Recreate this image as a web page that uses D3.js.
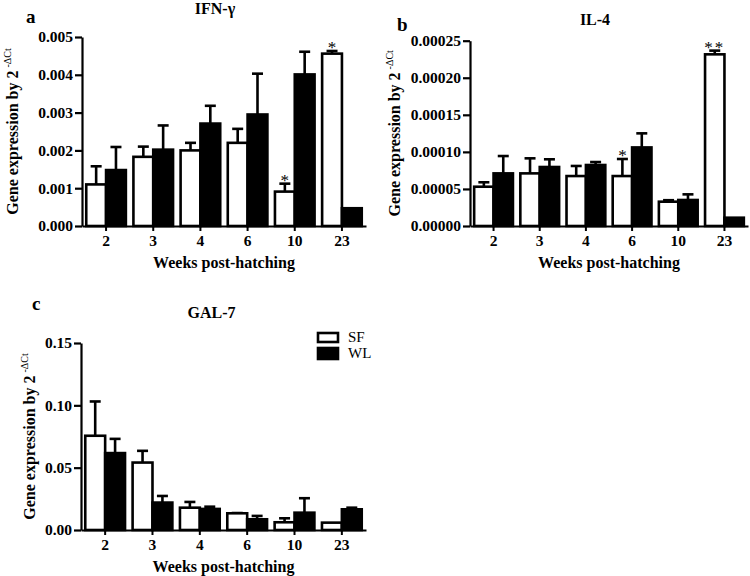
<!DOCTYPE html>
<html>
<head>
<meta charset="utf-8">
<script src="https://cdn.jsdelivr.net/npm/d3@7"></script>
<style>
  html, body { margin: 0; padding: 0; background: #fff; }
  svg { display: block; }
  text { font-family: "Liberation Serif", "Times New Roman", serif; fill: #000; }
</style>
</head>
<body>
<svg id="chart" width="750" height="576"></svg>
<script>
// ---- data ----
const weeks = ["2", "3", "4", "6", "10", "23"];
const groups = ["SF", "WL"];

// Panel a: IFN-γ
const ifnSF    = [0.00110, 0.00183, 0.00200, 0.00220, 0.00091, 0.00456];
const ifnSFerr = [0.00048, 0.00027, 0.00020, 0.00037, 0.00021, 0.00007];
const ifnWL    = [0.00148, 0.00202, 0.00271, 0.00295, 0.00401, 0.00047];
const ifnWLerr = [0.00061, 0.00064, 0.00047, 0.00108, 0.00060, 0.00000];
const ifnSig   = ["", "", "", "", "*", "*"];
const ifnTicks = [0, 0.001, 0.002, 0.003, 0.004, 0.005];

// Panel b: IL-4
const il4SF    = [0.0000530, 0.0000710, 0.0000674, 0.0000674, 0.0000328, 0.0002316];
const il4SFerr = [0.0000060, 0.0000203, 0.0000136, 0.0000230, 0.0000020, 0.0000050];
const il4WL    = [0.0000710, 0.0000796, 0.0000823, 0.0001060, 0.0000351, 0.0000112];
const il4WLerr = [0.0000234, 0.0000104, 0.0000040, 0.0000190, 0.0000076, 0.0000000];
const il4Sig   = ["", "", "", "*", "", "**"];
const il4Ticks = [0, 0.00005, 0.0001, 0.00015, 0.0002, 0.00025];

// Panel c: GAL-7
const galSF    = [0.0756, 0.0541, 0.0179, 0.0134, 0.0062, 0.0059];
const galSFerr = [0.0275, 0.0094, 0.0046, 0.0002, 0.0032, 0.0000];
const galWL    = [0.0617, 0.0220, 0.0169, 0.0086, 0.0139, 0.0166];
const galWLerr = [0.0114, 0.0053, 0.0018, 0.0027, 0.0116, 0.0013];
const galSig   = ["", "", "", "", "", ""];
const galTicks = [0, 0.05, 0.10, 0.15];

const xTitle = "Weeks post-hatching";
const yTitle = "Gene expression by 2";
const ySup = "-ΔCt";

// ---- drawing ----
const svg = d3.select("#chart");

function panel(cfg) {
  const g = svg.append("g");
  const x0 = d3.scaleBand().domain(weeks).range([cfg.x0, cfg.x1]).paddingInner(0.16).paddingOuter(0.09);
  const x1 = d3.scaleBand().domain(groups).range([0, x0.bandwidth()]);
  const y = d3.scaleLinear().domain([0, cfg.ymax]).range([cfg.y0, cfg.y1]);

  const rows = weeks.map((w, i) => ({
    week: w,
    sig: cfg.sig[i],
    items: [
      { key: "SF", v: cfg.sf[i], e: cfg.sfErr[i] },
      { key: "WL", v: cfg.wl[i], e: cfg.wlErr[i] }
    ]
  }));

  const grp = g.selectAll(".grp").data(rows).join("g")
    .attr("transform", d => `translate(${x0(d.week)},0)`);

  // error bars (drawn first so bar top covers base)
  grp.selectAll(".err").data(d => d.items.filter(it => it.e > 0)).join("g").each(function(it) {
    const cx = x1(it.key) + x1.bandwidth() / 2;
    const gg = d3.select(this);
    gg.append("line").attr("x1", cx).attr("x2", cx)
      .attr("y1", y(it.v)).attr("y2", y(it.v + it.e))
      .attr("stroke", "#000").attr("stroke-width", 2.6);
    gg.append("line").attr("x1", cx - 5.5).attr("x2", cx + 5.5)
      .attr("y1", y(it.v + it.e)).attr("y2", y(it.v + it.e))
      .attr("stroke", "#000").attr("stroke-width", 2.6);
  });

  grp.selectAll("rect").data(d => d.items).join("rect")
    .attr("x", it => x1(it.key))
    .attr("width", x1.bandwidth())
    .attr("y", it => y(it.v))
    .attr("height", it => y(0) - y(it.v))
    .attr("fill", it => it.key === "SF" ? "#fff" : "#000")
    .attr("stroke", "#000").attr("stroke-width", 2.6);

  // significance marks over SF bars
  grp.filter(d => d.sig).append("text")
    .attr("x", x1("SF") + x1.bandwidth() / 2)
    .attr("y", d => y(d.items[0].v + d.items[0].e) + 2)
    .attr("text-anchor", "middle")
    .attr("font-size", 17)
    .attr("letter-spacing", d => d.sig.length > 1 ? 2 : 0)
    .text(d => d.sig);

  // axes
  const yAxis = d3.axisLeft(y).tickValues(cfg.ticks).tickFormat(d3.format(cfg.fmt))
    .tickSizeInner(7).tickSizeOuter(0).tickPadding(2);
  const ya = g.append("g").attr("transform", `translate(${cfg.x0},0)`).call(yAxis);
  ya.select(".domain").attr("stroke-width", 2.2);
  ya.selectAll(".tick line").attr("stroke-width", 2.2);
  ya.selectAll(".tick text").attr("font-size", 15.5).attr("font-weight", "bold")
    .attr("font-family", '"Liberation Serif", "Times New Roman", serif');

  const xAxis = d3.axisBottom(x0).tickSizeInner(5).tickSizeOuter(0).tickPadding(4);
  const xa = g.append("g").attr("transform", `translate(0,${cfg.y0})`).call(xAxis);
  xa.select(".domain").attr("stroke-width", 2.2);
  xa.selectAll(".tick line").attr("stroke-width", 2);
  xa.selectAll(".tick text").attr("font-size", 15.5).attr("font-weight", "bold")
    .attr("font-family", '"Liberation Serif", "Times New Roman", serif');

  // titles
  g.append("text").attr("x", (cfg.x0 + cfg.x1) / 2 + cfg.titleDx).attr("y", cfg.titleY)
    .attr("text-anchor", "middle").attr("font-size", 16).attr("font-weight", "bold")
    .text(cfg.title);
  g.append("text").attr("x", cfg.letterX).attr("y", cfg.letterY)
    .attr("font-size", 19).attr("font-weight", "bold").text(cfg.letter);
  g.append("text").attr("x", (cfg.x0 + cfg.x1) / 2).attr("y", cfg.y0 + 42)
    .attr("text-anchor", "middle").attr("font-size", 16).attr("font-weight", "bold")
    .text(xTitle);
  const yl = g.append("text")
    .attr("transform", `translate(${cfg.ylabX},${(cfg.y0 + cfg.y1) / 2}) rotate(-90)`)
    .attr("text-anchor", "middle").attr("font-size", 16).attr("font-weight", "bold");
  yl.append("tspan").text(yTitle);
  yl.append("tspan").attr("dx", 3).attr("dy", -7).attr("font-size", 10)
    .attr("font-weight", "normal").text(ySup);
  return { x0, x1, y, g };
}

panel({ x0: 82, x1: 366, y0: 226, y1: 37, ymax: 0.005, ticks: ifnTicks, fmt: ".3f",
  sf: ifnSF, sfErr: ifnSFerr, wl: ifnWL, wlErr: ifnWLerr, sig: ifnSig,
  title: "IFN-γ", titleDx: -9, titleY: 14, letter: "a", letterX: 26, letterY: 23, ylabX: 18 });

panel({ x0: 470, x1: 748, y0: 226, y1: 40.7, ymax: 0.00025, ticks: il4Ticks, fmt: ".5f",
  sf: il4SF, sfErr: il4SFerr, wl: il4WL, wlErr: il4WLerr, sig: il4Sig,
  title: "IL-4", titleDx: -14, titleY: 25, letter: "b", letterX: 397, letterY: 31, ylabX: 400 });

const pc = panel({ x0: 81, x1: 366, y0: 530, y1: 343, ymax: 0.15, ticks: galTicks, fmt: ".2f",
  sf: galSF, sfErr: galSFerr, wl: galWL, wlErr: galWLerr, sig: galSig,
  title: "GAL-7", titleDx: -12, titleY: 318, letter: "c", letterX: 32, letterY: 310, ylabX: 35 });

// legend
const leg = svg.append("g").attr("transform", "translate(318,333)");
groups.forEach((k, i) => {
  const row = leg.append("g").attr("transform", `translate(0,${i * 16})`);
  row.append("rect").attr("x", 0).attr("y", i === 0 ? 0 : -1).attr("width", 20).attr("height", i === 0 ? 9 : 11)
    .attr("fill", k === "SF" ? "#fff" : "#000").attr("stroke", "#000").attr("stroke-width", 2.6);
  row.append("text").attr("x", 30).attr("y", 9).attr("font-size", 15).text(k);
});
</script>
</body>
</html>
